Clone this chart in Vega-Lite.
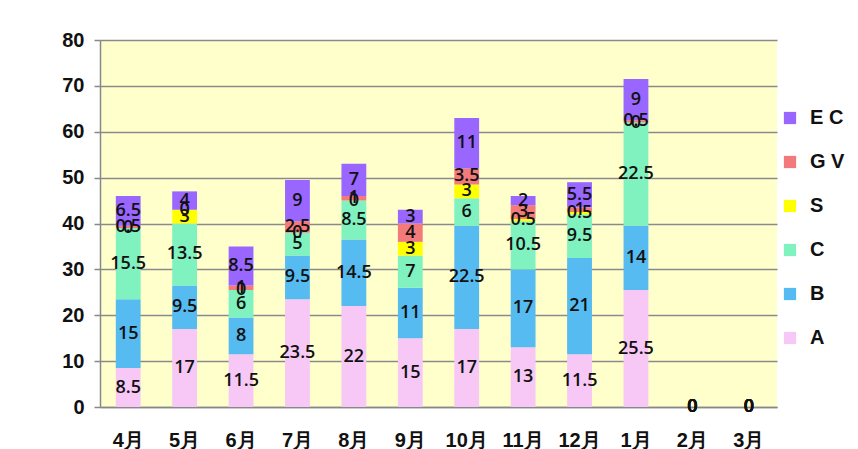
{
  "$schema": "https://vega.github.io/schema/vega-lite/v6.json",
  "autosize": "none",
  "width": 677,
  "height": 367,
  "padding": {"left": 100, "top": 40, "right": 81, "bottom": 42},
  "background": "#ffffff",
  "config": {"view": {"fill": "#FFFFCC", "stroke": null}},
  "data": {"values": [
    {"m":"4月","s":"A","k":1,"v":8.5},{"m":"4月","s":"B","k":2,"v":15},{"m":"4月","s":"C","k":3,"v":15.5},{"m":"4月","s":"S","k":4,"v":0},{"m":"4月","s":"G V","k":5,"v":0.5},{"m":"4月","s":"E C","k":6,"v":6.5},
    {"m":"5月","s":"A","k":1,"v":17},{"m":"5月","s":"B","k":2,"v":9.5},{"m":"5月","s":"C","k":3,"v":13.5},{"m":"5月","s":"S","k":4,"v":3},{"m":"5月","s":"G V","k":5,"v":0},{"m":"5月","s":"E C","k":6,"v":4},
    {"m":"6月","s":"A","k":1,"v":11.5},{"m":"6月","s":"B","k":2,"v":8},{"m":"6月","s":"C","k":3,"v":6},{"m":"6月","s":"S","k":4,"v":0},{"m":"6月","s":"G V","k":5,"v":1},{"m":"6月","s":"E C","k":6,"v":8.5},
    {"m":"7月","s":"A","k":1,"v":23.5},{"m":"7月","s":"B","k":2,"v":9.5},{"m":"7月","s":"C","k":3,"v":5},{"m":"7月","s":"S","k":4,"v":0},{"m":"7月","s":"G V","k":5,"v":2.5},{"m":"7月","s":"E C","k":6,"v":9},
    {"m":"8月","s":"A","k":1,"v":22},{"m":"8月","s":"B","k":2,"v":14.5},{"m":"8月","s":"C","k":3,"v":8.5},{"m":"8月","s":"S","k":4,"v":0},{"m":"8月","s":"G V","k":5,"v":1},{"m":"8月","s":"E C","k":6,"v":7},
    {"m":"9月","s":"A","k":1,"v":15},{"m":"9月","s":"B","k":2,"v":11},{"m":"9月","s":"C","k":3,"v":7},{"m":"9月","s":"S","k":4,"v":3},{"m":"9月","s":"G V","k":5,"v":4},{"m":"9月","s":"E C","k":6,"v":3},
    {"m":"10月","s":"A","k":1,"v":17},{"m":"10月","s":"B","k":2,"v":22.5},{"m":"10月","s":"C","k":3,"v":6},{"m":"10月","s":"S","k":4,"v":3},{"m":"10月","s":"G V","k":5,"v":3.5},{"m":"10月","s":"E C","k":6,"v":11},
    {"m":"11月","s":"A","k":1,"v":13},{"m":"11月","s":"B","k":2,"v":17},{"m":"11月","s":"C","k":3,"v":10.5},{"m":"11月","s":"S","k":4,"v":0.5},{"m":"11月","s":"G V","k":5,"v":3},{"m":"11月","s":"E C","k":6,"v":2},
    {"m":"12月","s":"A","k":1,"v":11.5},{"m":"12月","s":"B","k":2,"v":21},{"m":"12月","s":"C","k":3,"v":9.5},{"m":"12月","s":"S","k":4,"v":0.5},{"m":"12月","s":"G V","k":5,"v":1},{"m":"12月","s":"E C","k":6,"v":5.5},
    {"m":"1月","s":"A","k":1,"v":25.5},{"m":"1月","s":"B","k":2,"v":14},{"m":"1月","s":"C","k":3,"v":22.5},{"m":"1月","s":"S","k":4,"v":0},{"m":"1月","s":"G V","k":5,"v":0.5},{"m":"1月","s":"E C","k":6,"v":9},
    {"m":"2月","s":"A","k":1,"v":0},{"m":"2月","s":"B","k":2,"v":0},{"m":"2月","s":"C","k":3,"v":0},{"m":"2月","s":"S","k":4,"v":0},{"m":"2月","s":"G V","k":5,"v":0},{"m":"2月","s":"E C","k":6,"v":0},
    {"m":"3月","s":"A","k":1,"v":0},{"m":"3月","s":"B","k":2,"v":0},{"m":"3月","s":"C","k":3,"v":0},{"m":"3月","s":"S","k":4,"v":0},{"m":"3月","s":"G V","k":5,"v":0},{"m":"3月","s":"E C","k":6,"v":0}
  ]},
  "transform": [
    {"stack": "v", "groupby": ["m"], "sort": [{"field": "k", "order": "ascending"}], "as": ["y0", "y1"]},
    {"calculate": "(datum.y0 + datum.y1) / 2", "as": "ymid"}
  ],
  "encoding": {
    "x": {
      "field": "m", "type": "nominal",
      "sort": ["4月","5月","6月","7月","8月","9月","10月","11月","12月","1月","2月","3月"],
      "scale": {"paddingInner": 0.56, "paddingOuter": 0.28},
      "axis": {
        "title": null, "labelAngle": 0, "labelFont": "Liberation Sans", "labelFontWeight": "bold",
        "labelFontSize": 20, "labelColor": "#111", "labelPadding": 23, "ticks": false,
        "domainColor": "#888", "domainWidth": 1.5
      }
    }
  },
  "layer": [
    {
      "mark": {"type": "bar"},
      "encoding": {
        "y": {
          "field": "y0", "type": "quantitative",
          "scale": {"domain": [0, 80]},
          "axis": {
            "title": null, "values": [0,10,20,30,40,50,60,70,80], "labelOverlap": false,
            "labelFont": "Liberation Sans", "labelFontWeight": "bold", "labelFontSize": 20, "labelColor": "#111",
            "labelPadding": 10, "gridColor": "#8a8a8a", "gridWidth": 1.3, "domainColor": "#888", "domainWidth": 1.5,
            "tickColor": "#888", "tickSize": 6, "tickWidth": 1.5
          }
        },
        "y2": {"field": "y1"},
        "color": {
          "field": "s", "type": "nominal",
          "scale": {
            "domain": ["E C", "G V", "S", "C", "B", "A"],
            "range": ["#9966FF", "#F27A7A", "#FFFF00", "#80F2C0", "#55BBF0", "#F7C8F5"]
          },
          "legend": {
            "title": null, "orient": "none", "legendX": 680, "legendY": 68,
            "symbolType": "square", "symbolSize": 150, "symbolStrokeWidth": 0,
            "labelFont": "Liberation Sans", "labelFontWeight": "bold", "labelFontSize": 20, "labelColor": "#111",
            "rowPadding": 24, "labelOffset": 10
          }
        }
      }
    },
    {
      "mark": {"type": "text", "font": "Open Sans", "fontWeight": 600, "fontSize": 18, "color": "#111", "baseline": "middle", "align": "center"},
      "encoding": {
        "y": {
          "field": "ymid", "type": "quantitative",
          "axis": {
            "title": null, "values": [0,10,20,30,40,50,60,70,80], "labelOverlap": false,
            "labelFont": "Liberation Sans", "labelFontWeight": "bold", "labelFontSize": 20, "labelColor": "#111",
            "labelPadding": 10, "gridColor": "#8a8a8a", "gridWidth": 1.3, "domainColor": "#888", "domainWidth": 1.5,
            "tickColor": "#888", "tickSize": 6, "tickWidth": 1.5
          }
        },
        "text": {"field": "v", "type": "quantitative"}
      }
    }
  ]
}
